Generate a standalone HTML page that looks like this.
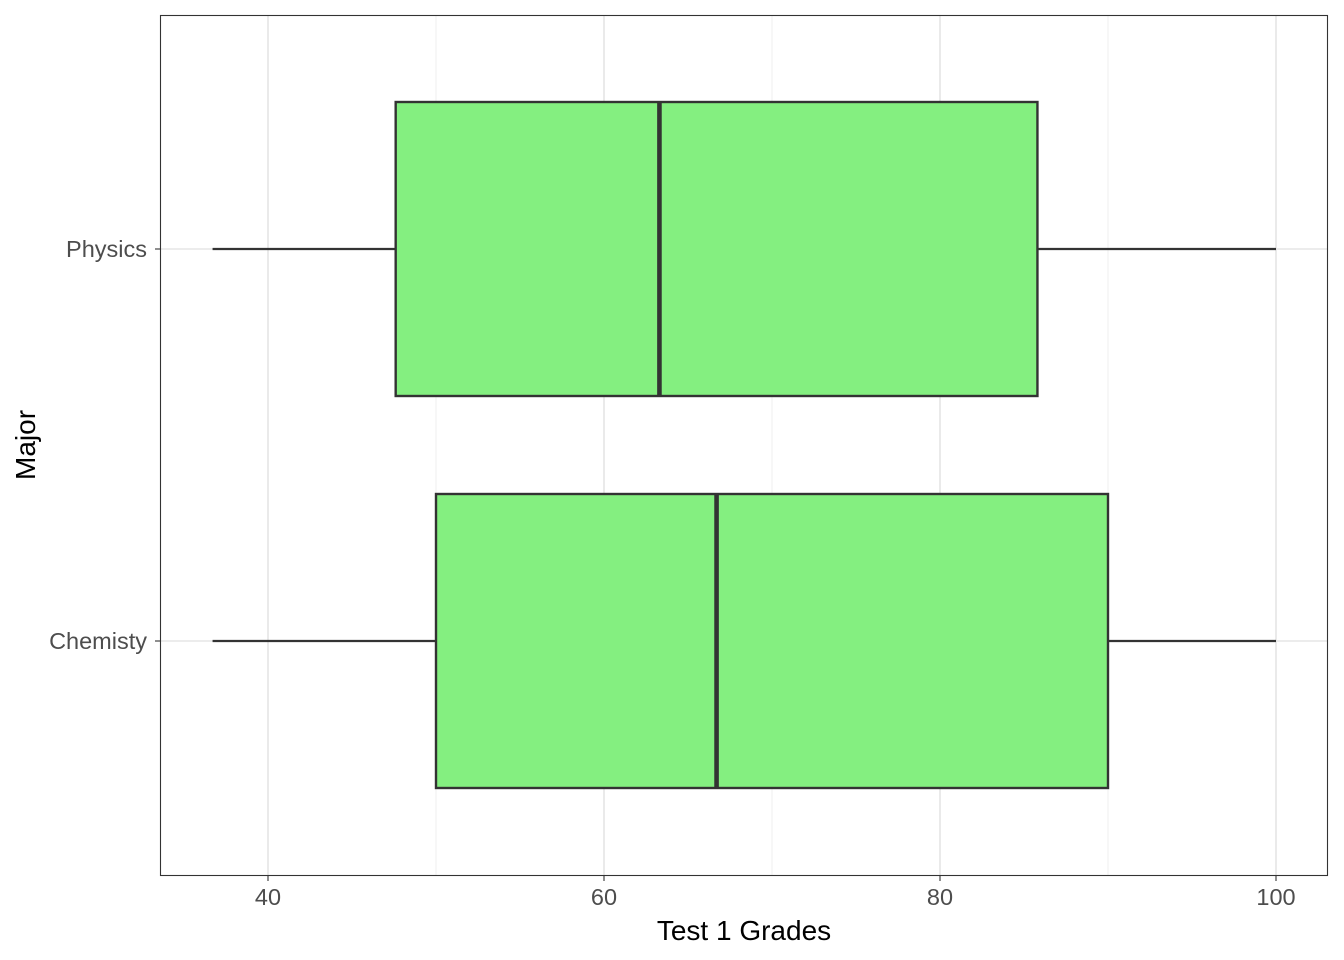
<!DOCTYPE html>
<html><head><meta charset="utf-8"><style>
html,body{margin:0;padding:0;background:#fff;}
svg{display:block;font-family:"Liberation Sans",Arial,sans-serif;}
</style></head><body>
<svg id="chart" width="1344" height="960">
<rect x="0" y="0" width="1344" height="960" fill="#fff"/>
<g id="grid"></g>
<g id="boxes"></g>
<rect x="160.5" y="15.5" width="1167" height="860" fill="none" stroke="#333" stroke-width="1.1"/>
<g id="axes"></g>
<text x="744" y="940" text-anchor="middle" font-size="28" fill="#000">Test 1 Grades</text>
<text transform="translate(35,445) rotate(-90)" text-anchor="middle" font-size="28" fill="#000">Major</text>
</svg>
<script>
const categories = ["Physics", "Chemisty"];
const whiskerLow = [36.7, 36.7];
const q1 = [47.6, 50];
const medians = [63.3, 66.7];
const q3 = [85.8, 90];
const whiskerHigh = [100, 100];
const xMajorTicks = [40, 60, 80, 100];
const xMinorTicks = [50, 70, 90];

const NS = "http://www.w3.org/2000/svg";
function x(v){ return 268 + (v - 40) * 16.8; }
function y(i){ return 249 + i * 392; }
const boxHalf = 147;
function mk(parent, tag, attrs){
  const e = document.createElementNS(NS, tag);
  for (const k in attrs) e.setAttribute(k, attrs[k]);
  parent.appendChild(e); return e;
}
const grid = document.getElementById("grid");
const boxes = document.getElementById("boxes");
const axes = document.getElementById("axes");

xMinorTicks.forEach(v => {
  const l = mk(grid, "line", {x1:x(v), x2:x(v), y1:15, y2:876, stroke:"#ebebeb", "stroke-width":0.8});
  
  
});
xMajorTicks.forEach(v => {
  const l = mk(grid, "line", {x1:x(v), x2:x(v), y1:15, y2:876, stroke:"#e5e5e5", "stroke-width":1.6});
  
  
  const t = mk(axes, "line", {x1:x(v), x2:x(v), y1:876, y2:881, stroke:"#333", "stroke-width":1.1});
  
  
  const tx = mk(axes, "text", {x:x(v), y:905, "text-anchor":"middle", "font-size":23.5, fill:"#4d4d4d"});
  tx.textContent = v;
  
  
});
categories.forEach((c, i) => {
  const cy = y(i);
  const gl = mk(grid, "line", {x1:160, x2:1328, y1:cy, y2:cy, stroke:"#e5e5e5", "stroke-width":1.6});
  
  
  const t = mk(axes, "line", {x1:155, x2:160, y1:cy, y2:cy, stroke:"#333", "stroke-width":1.1});
  
  
  const tx = mk(axes, "text", {x:147, y:cy+8, "text-anchor":"end", "font-size":23.5, fill:"#4d4d4d"});
  tx.textContent = c;
  
  

  const g = mk(boxes, "g", {});
  
  
  const w1 = mk(g, "line", {x1:x(whiskerLow[i]), x2:x(q1[i]), y1:cy, y2:cy, stroke:"#333", "stroke-width":2.2});
  
  
  const w2 = mk(g, "line", {x1:x(q3[i]), x2:x(whiskerHigh[i]), y1:cy, y2:cy, stroke:"#333", "stroke-width":2.2});
  
  
  const r = mk(g, "rect", {x:x(q1[i]), y:cy-boxHalf, width:x(q3[i])-x(q1[i]), height:2*boxHalf, fill:"#84ef80", stroke:"#333", "stroke-width":2.4});
  
  
  const m = mk(g, "line", {x1:x(medians[i]), x2:x(medians[i]), y1:cy-boxHalf, y2:cy+boxHalf, stroke:"#333", "stroke-width":4.6});
  
  
});
</script>
</body></html>
